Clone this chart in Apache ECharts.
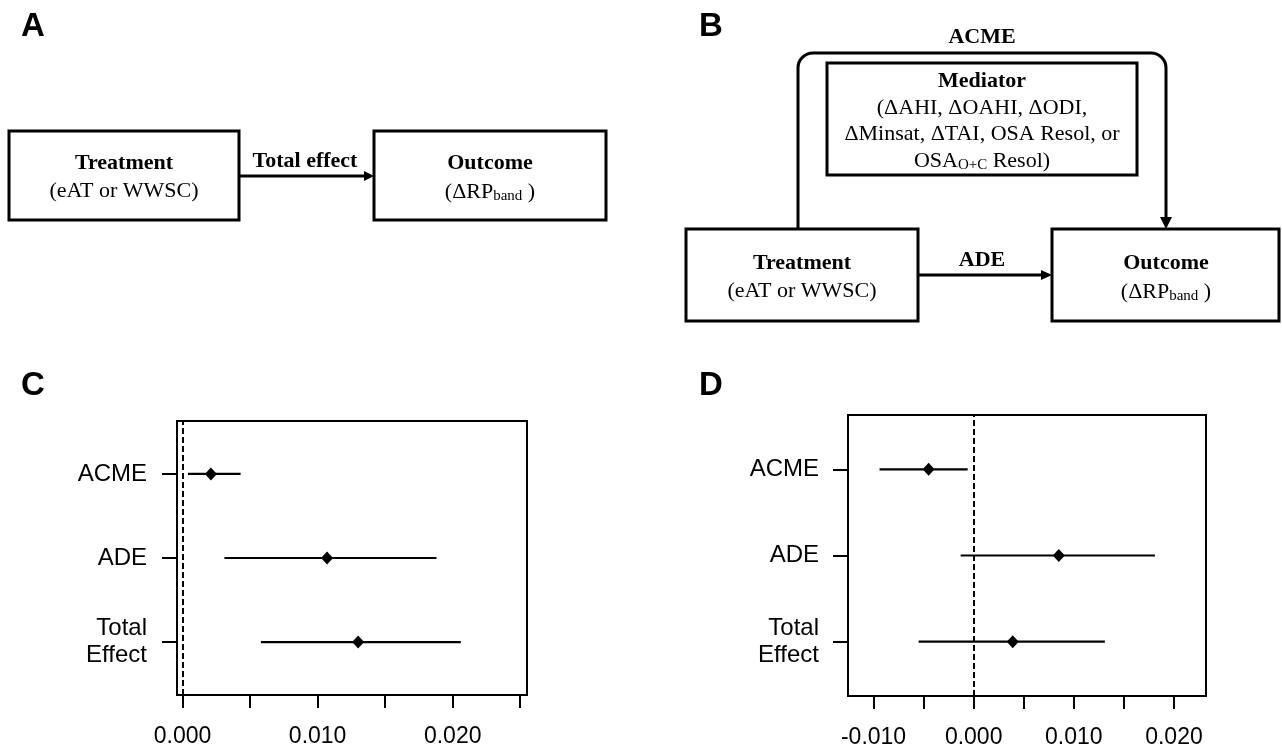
<!DOCTYPE html>
<html>
<head>
<meta charset="utf-8">
<script src="https://cdn.jsdelivr.net/npm/echarts@6/dist/echarts.min.js"></script>
<style>
html,body{margin:0;padding:0;background:#fff;}
#chart{width:1282px;height:752px;}
</style>
</head>
<body>
<div id="chart"></div>
<script>
// ---- data ----
const categories = ['ACME', 'ADE', 'Total\nEffect'];
// Panel C
const estC  = [0.0021, 0.0107, 0.0130];
const lowC  = [0.0004, 0.0031, 0.0058];
const highC = [0.0043, 0.0188, 0.0206];
const ticksC  = [0, 0.005, 0.010, 0.015, 0.020, 0.025];
const labelsC = [0, 0.010, 0.020];
// Panel D
const estD  = [-0.0045, 0.0085, 0.0039];
const lowD  = [-0.0094, -0.0013, -0.0055];
const highD = [-0.0006, 0.0181, 0.0131];
const ticksD  = [-0.010, -0.005, 0, 0.005, 0.010, 0.015, 0.020];
const labelsD = [-0.010, 0, 0.010, 0.020];
const refLine = 0;

const SANS = '"Liberation Sans", Arial, sans-serif';
const SERIF = '"Liberation Serif", "Times New Roman", serif';
const rowPos = i => categories.length - i;

function xAxisCfg(gridIndex, min, max, ticks, labels) {
  return {
    type: 'value', gridIndex, min, max,
    splitLine: {show: false},
    axisLine: {show: false, onZero: false},
    axisTick: {show: true, length: 13, customValues: ticks, lineStyle: {color: '#000', width: 2}},
    axisLabel: {customValues: labels, margin: 30, color: '#000', fontSize: 23, fontFamily: SANS,
      formatter: v => v.toFixed(3)}
  };
}
function yAxisCfg(gridIndex, margin) {
  return {
    type: 'value', gridIndex, min: 0.37, max: 3.63,
    splitLine: {show: false},
    axisLine: {show: false, onZero: false},
    axisTick: {show: true, length: 15, customValues: [1, 2, 3], lineStyle: {color: '#000', width: 2}},
    axisLabel: {customValues: [1, 2, 3], margin, color: '#000', fontSize: 24, fontFamily: SANS,
      lineHeight: 27, align: 'right',
      formatter: v => categories[categories.length - Math.round(v)]}
  };
}
function whiskerSeries(idx, low, high) {
  return {
    type: 'custom', xAxisIndex: idx, yAxisIndex: idx, silent: true,
    data: low.map((l, i) => [l, high[i], rowPos(i)]),
    encode: {x: [0, 1], y: 2},
    renderItem: (params, api) => {
      const y = api.value(2);
      const p1 = api.coord([api.value(0), y]);
      const p2 = api.coord([api.value(1), y]);
      return {type: 'line', shape: {x1: p1[0], y1: p1[1], x2: p2[0], y2: p2[1]},
        style: {stroke: '#000', lineWidth: 2.2}};
    }
  };
}
function pointSeries(idx, est) {
  return {
    type: 'scatter', xAxisIndex: idx, yAxisIndex: idx, silent: true,
    symbol: 'diamond', symbolSize: [12, 13],
    itemStyle: {color: '#000', opacity: 1},
    data: est.map((e, i) => [e, rowPos(i)]),
    markLine: {
      silent: true, symbol: 'none', label: {show: false},
      lineStyle: {color: '#000', width: 2, type: [6, 3], opacity: 1},
      data: [{xAxis: refLine}]
    }
  };
}

// ---- diagram helpers ----
const G = [];
function box(x, y, w, h) {
  G.push({type: 'rect', shape: {x, y, width: w, height: h}, style: {fill: '#fff', stroke: '#000', lineWidth: 3}});
}
function line(x1, y1, x2, y2) {
  G.push({type: 'line', shape: {x1, y1, x2, y2}, style: {stroke: '#000', lineWidth: 3}});
}
function tri(points) {
  G.push({type: 'polygon', shape: {points}, style: {fill: '#000'}});
}
function txt(text, x, y, opts) {
  G.push({type: 'text', x, y, style: Object.assign({text, fill: '#000', align: 'center', verticalAlign: 'middle',
    fontFamily: SERIF, fontSize: 22}, opts || {})});
}
const richSub = {
  n: {fontFamily: SERIF, fontSize: 22, fill: '#000', lineHeight: 24},
  s: {fontFamily: SERIF, fontSize: 15, fill: '#000', lineHeight: 24, verticalAlign: 'bottom', padding: [10, 0, 0, 0]}
};
function letter(t, x, y) {
  G.push({type: 'text', x, y, style: {text: t, fill: '#000', fontFamily: SANS, fontWeight: 'bold', fontSize: 33,
    align: 'left', verticalAlign: 'middle'}});
}

// Panel letters
letter('A', 21, 27); letter('B', 699, 27); letter('C', 21, 386); letter('D', 699, 386);

// Panel A
box(9, 131, 230, 89);
box(374, 131, 232, 89);
line(239, 176, 364, 176);
tri([[364, 171], [374, 176], [364, 181]]);
txt('Total effect', 305, 161, {fontWeight: 'bold'});
txt('Treatment', 124, 163, {fontWeight: 'bold'});
txt('(eAT or WWSC)', 124, 191);
txt('Outcome', 490, 163, {fontWeight: 'bold'});
txt('{n|(ΔRP}{s|band}{n| )}', 490, 192, {rich: richSub});

// Panel B
// ACME path
line(798, 229, 798, 68);
G.push({type: 'arc', shape: {cx: 813, cy: 68, r: 15, startAngle: Math.PI, endAngle: Math.PI * 1.5, clockwise: true},
  style: {stroke: '#000', lineWidth: 3, fill: null}});
line(813, 53, 1151, 53);
G.push({type: 'arc', shape: {cx: 1151, cy: 68, r: 15, startAngle: -Math.PI / 2, endAngle: 0, clockwise: true},
  style: {stroke: '#000', lineWidth: 3, fill: null}});
line(1166, 68, 1166, 218);
tri([[1160, 217], [1166, 229], [1172, 217]]);
txt('ACME', 982, 37, {fontWeight: 'bold'});
box(827, 63, 310, 112);
txt('Mediator', 982, 81, {fontWeight: 'bold'});
txt('(ΔAHI, ΔOAHI, ΔODI,', 982, 108);
txt('ΔMinsat, ΔTAI, OSA Resol, or', 982, 134);
txt('{n|OSA}{s|O+C}{n| Resol)}', 982, 161, {rich: richSub});
box(686, 229, 232, 92);
box(1052, 229, 227, 92);
line(918, 275, 1041, 275);
tri([[1041, 270], [1052, 275], [1041, 280]]);
txt('ADE', 982, 260, {fontWeight: 'bold'});
txt('Treatment', 802, 263, {fontWeight: 'bold'});
txt('(eAT or WWSC)', 802, 291);
txt('Outcome', 1166, 263, {fontWeight: 'bold'});
txt('{n|(ΔRP}{s|band}{n| )}', 1166, 292, {rich: richSub});

const chart = echarts.init(document.getElementById('chart'), null, {renderer: 'canvas'});
chart.setOption({
  animation: false,
  backgroundColor: '#fff',
  grid: [
    {left: 177, top: 421, width: 350, height: 274, show: true, borderColor: '#000', borderWidth: 2, backgroundColor: 'transparent'},
    {left: 848, top: 415, width: 358, height: 281, show: true, borderColor: '#000', borderWidth: 2, backgroundColor: 'transparent'}
  ],
  xAxis: [
    xAxisCfg(0, -0.00041, 0.0255, ticksC, labelsC),
    xAxisCfg(1, -0.01255, 0.0232, ticksD, labelsD)
  ],
  yAxis: [yAxisCfg(0, 30), yAxisCfg(1, 29)],
  series: [
    whiskerSeries(0, lowC, highC), pointSeries(0, estC),
    whiskerSeries(1, lowD, highD), pointSeries(1, estD)
  ],
  graphic: {elements: G}
});
</script>
</body>
</html>
